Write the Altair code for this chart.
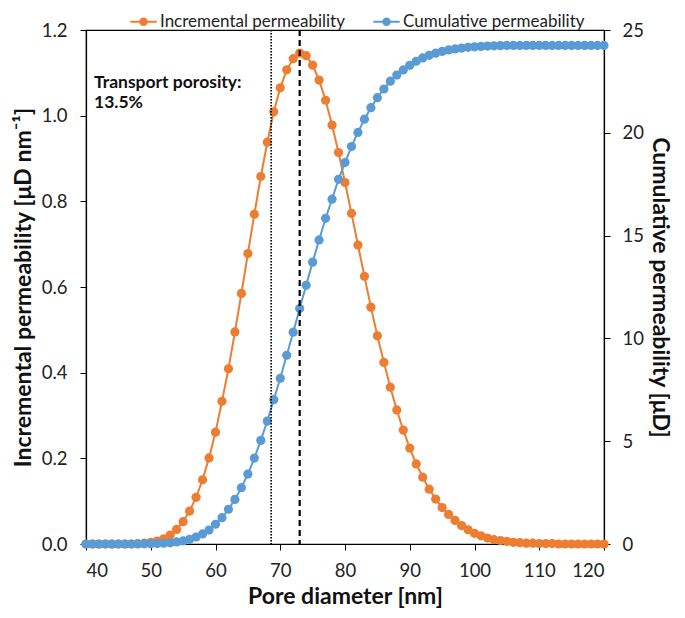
import altair as alt
import pandas as pd

diam = list(range(40, 121))

incremental = [
    0.000, 0.000, 0.000, 0.000, 0.000, 0.000, 0.000, 0.000, 0.001, 0.002,  # 40-49
    0.004, 0.007, 0.012, 0.021, 0.034, 0.052, 0.077, 0.109, 0.150, 0.201,  # 50-59
    0.261, 0.333, 0.409, 0.495, 0.585, 0.678, 0.770, 0.858, 0.938, 1.009,  # 60-69
    1.065, 1.107, 1.133, 1.146, 1.140, 1.118, 1.083, 1.036, 0.978, 0.914,  # 70-79
    0.844, 0.772, 0.698, 0.625, 0.553, 0.486, 0.424, 0.366, 0.313, 0.266,  # 80-89
    0.224, 0.187, 0.156, 0.128, 0.105, 0.085, 0.069, 0.055, 0.043, 0.033,  # 90-99
    0.025, 0.019, 0.014, 0.010, 0.008, 0.006, 0.004, 0.003, 0.002, 0.002,  # 100-109
    0.001, 0.001, 0.001, 0.000, 0.000, 0.000, 0.000, 0.000, 0.000, 0.000,  # 110-119
    0.000,                                                                  # 120
]

cumulative = [
    0.00, 0.00, 0.00, 0.00, 0.00, 0.00, 0.00, 0.00, 0.00, 0.01,            # 40-49
    0.01, 0.02, 0.04, 0.06, 0.10, 0.15, 0.23, 0.34, 0.49, 0.68,            # 50-59
    0.96, 1.28, 1.69, 2.17, 2.74, 3.40, 4.18, 5.04, 5.98, 7.02,            # 60-69
    8.06, 9.18, 10.30, 11.45, 12.58, 13.71, 14.79, 15.84, 16.77, 17.74,    # 70-79
    18.55, 19.33, 20.02, 20.66, 21.22, 21.71, 22.13, 22.51, 22.81, 23.06,  # 80-89
    23.28, 23.48, 23.64, 23.77, 23.87, 23.96, 24.03, 24.08, 24.12, 24.16,  # 90-99
    24.18, 24.20, 24.22, 24.23, 24.24, 24.25, 24.25, 24.25, 24.25, 24.25,  # 100-109
    24.25, 24.25, 24.25, 24.25, 24.25, 24.25, 24.25, 24.25, 24.25, 24.25,  # 110-119
    24.25,                                                                 # 120
]

series_names = ["Incremental permeability", "Cumulative permeability"]
series_colors = ["#ED7D31", "#5B9BD5"]

vlines = [68.6, 73.0]
vline_dash = [[1.5, 1.5], [6, 4]]
annotation = ["Transport porosity:", "13.5%"]

x_ticks = list(range(40, 121, 5))

FONT = "Lato"
ORANGE, BLUE = series_colors

df_inc = pd.DataFrame({"d": diam, "v": incremental, "series": series_names[0]})
df_cum = pd.DataFrame({"d": diam, "v": cumulative, "series": series_names[1]})

legend_path = ("M-1,-0.08L1,-0.08L1,0.08L-1,0.08Z"
               "M0.32,0A0.32,0.32,0,1,1,-0.32,0A0.32,0.32,0,1,1,0.32,0Z")

color = alt.Color(
    "series:N",
    scale=alt.Scale(domain=series_names, range=series_colors),
    legend=alt.Legend(
        title=None, orient="none", direction="horizontal",
        legendX=44, legendY=-22, symbolType=legend_path, symbolSize=700,
        symbolStrokeWidth=0, labelFont=FONT, labelFontSize=17, labelColor="#222",
        columnPadding=28, labelOffset=3, symbolOpacity=1, labelLimit=0,
        padding=0,
    ),
)

x = alt.X(
    "d:Q",
    scale=alt.Scale(domain=[40, 120], nice=False, zero=False),
    axis=alt.Axis(
        title="Pore diameter [nm]", values=x_ticks,
        labelExpr="datum.value % 10 == 0 ? datum.label : ''",
        tickSize=6, labelPadding=11, titlePadding=6,
    ),
)

y_left = alt.Y(
    "v:Q",
    scale=alt.Scale(domain=[0, 1.2], nice=False),
    axis=alt.Axis(
        title="Incremental permeability [μD nm⁻¹]", orient="left",
        values=[0, 0.2, 0.4, 0.6, 0.8, 1.0, 1.2], format=".1f",
        tickSize=6, labelPadding=13, titlePadding=6,
    ),
)

y_right = alt.Y(
    "v:Q",
    scale=alt.Scale(domain=[0, 25], nice=False),
    axis=alt.Axis(
        title="Cumulative permeability [μD]", orient="right",
        values=[0, 5, 10, 15, 20, 25],
        tickSize=6, labelPadding=12, titlePadding=4,
    ),
)

inc_base = alt.Chart(df_inc).encode(x=x, y=y_left)
inc_layer = alt.layer(
    inc_base.mark_line(color=ORANGE, strokeWidth=2),
    inc_base.mark_point(filled=True, size=85, opacity=1).encode(color=color),
)

cum_base = alt.Chart(df_cum).encode(x=x, y=y_right)
cum_layer = alt.layer(
    cum_base.mark_line(color=BLUE, strokeWidth=2),
    cum_base.mark_point(filled=True, size=85, opacity=1).encode(color=color),
)

df_rules = pd.DataFrame({"d": vlines})
rule_dotted = alt.Chart(df_rules.iloc[[0]]).mark_rule(
    color="black", strokeWidth=1.7, strokeDash=vline_dash[0]
).encode(x="d:Q")
rule_dashed = alt.Chart(df_rules.iloc[[1]]).mark_rule(
    color="black", strokeWidth=2.2, strokeDash=vline_dash[1]
).encode(x="d:Q")

df_text = pd.DataFrame({"t": [annotation]})
text = alt.Chart(df_text).mark_text(
    align="left", baseline="top", font=FONT, fontSize=17.5, fontWeight="bold",
    color="#111", lineHeight=20,
).encode(x=alt.value(8), y=alt.value(44), text="t")

chart = alt.layer(
    inc_layer, cum_layer, rule_dotted, rule_dashed, text
).resolve_scale(y="independent").properties(
    width=518, height=514,
    autosize=alt.AutoSizeParams(type="none"),
    padding={"left": 78, "top": 22, "right": 73, "bottom": 66},
).configure_view(
    stroke="black", strokeWidth=1.2
).configure_axis(
    labelFont=FONT, labelFontSize=18.5, labelColor="#222",
    titleFont=FONT, titleFontSize=23, titleFontWeight="bold", titleColor="#111",
    domainColor="black", tickColor="black", domainWidth=1.2, grid=False,
)

chart.save("out.html", embed_options={"renderer": "svg", "actions": False})
